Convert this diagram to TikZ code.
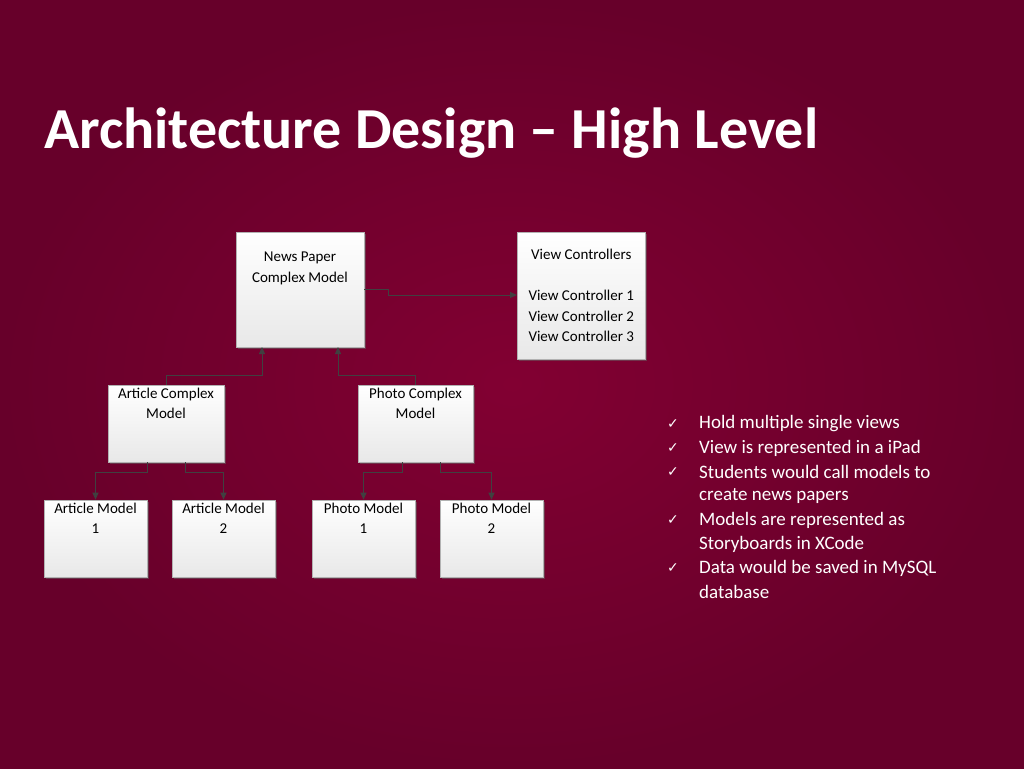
\documentclass[tikz,border=0pt]{standalone}
\usepackage{fontspec}
\setmainfont{Carlito}
\newfontfamily\symf{DejaVu Sans}
\usetikzlibrary{shadows,arrows.meta}
\definecolor{bgin}{HTML}{820032}
\definecolor{bgout}{HTML}{67002A}
\begin{document}
\begin{tikzpicture}[x=1pt,y=-1pt,
  box/.style={draw=gray!60,line width=0.6pt,top color=white,bottom color=gray!18,
    drop shadow={shadow xshift=2pt,shadow yshift=-2pt,fill=black!60,opacity=.5},
    inner sep=0pt,align=center,font=\fontsize{15}{20.5}\selectfont},
  conn/.style={draw=black!75,line width=1pt,-{Triangle[length=7pt,width=6pt]}},
  bl/.style={anchor=west,font=\fontsize{19}{24}\selectfont,text=white,inner sep=0pt}]
\useasboundingbox (0,0) rectangle (1024,768);
\shade[inner color=bgin,outer color=bgout] (0,0) rectangle (1024,768);
\node[anchor=west,text=white,font=\fontsize{58}{60}\bfseries\selectfont,inner sep=0pt] (title) at (44,133) {Architecture Design -- High Level};
\node[box,minimum width=128,minimum height=115] (np) at (300,289.5) {News Paper\\Complex Model\\[24pt]};
\node[box,minimum width=128,minimum height=127,anchor=north west] (vc) at (517,232) {View Controllers\\[20.5pt]View Controller 1\\View Controller 2\\View Controller 3};
\node[box,minimum width=116,minimum height=77] (ac) at (166,423.5) {Article Complex\\Model\\[20pt]};
\node[box,minimum width=115,minimum height=77] (pc) at (415.5,423.5) {Photo Complex\\Model\\[20pt]};
\node[box,minimum width=103,minimum height=77] (am1) at (95.5,538.5) {Article Model\\1\\[20pt]};
\node[box,minimum width=103,minimum height=77] (am2) at (223.5,538.5) {Article Model\\2\\[20pt]};
\node[box,minimum width=103,minimum height=77] (pm1) at (363.5,538.5) {Photo Model\\1\\[20pt]};
\node[box,minimum width=103,minimum height=77] (pm2) at (491.5,538.5) {Photo Model\\2\\[20pt]};
\draw[conn] (np.east |- 0,289) -- (388,289) -- (388,295) -- (vc.west |- 0,295);
\draw[conn] (ac.north) -- (166,375) -- (262,375) -- (262,347);
\draw[conn] (pc.north) -- (415.5,375) -- (338,375) -- (338,347);
\draw[conn] (147,462) -- (147,472) -- (95.5,472) -- (am1.north);
\draw[conn] (185,462) -- (185,472) -- (223.5,472) -- (am2.north);
\draw[conn] (402,462) -- (402,472) -- (363.5,472) -- (pm1.north);
\draw[conn] (440,462) -- (440,472) -- (491.5,472) -- (pm2.north);
\foreach \y/\t in {424/Hold multiple single views,448/View is represented in a iPad,472/Students would call models to,520/Models are represented as,568/Data would be saved in MySQL}
  \node[bl,text=white] at (667,\y) {\symf\fontsize{14}{14}\selectfont ✓};
\node[bl] (b1) at (699,424) {Hold multiple single views};
\node[bl] (b2) at (699,448) {View is represented in a iPad};
\node[bl] (b3) at (699,472) {Students would call models to};
\node[bl] (b3b) at (699,496) {create news papers};
\node[bl] (b4) at (699,520) {Models are represented as};
\node[bl] (b4b) at (699,544) {Storyboards in XCode};
\node[bl] (b5) at (699,568) {Data would be saved in MySQL};
\node[bl] (b5b) at (699,592) {database};
\end{tikzpicture}
\end{document}
